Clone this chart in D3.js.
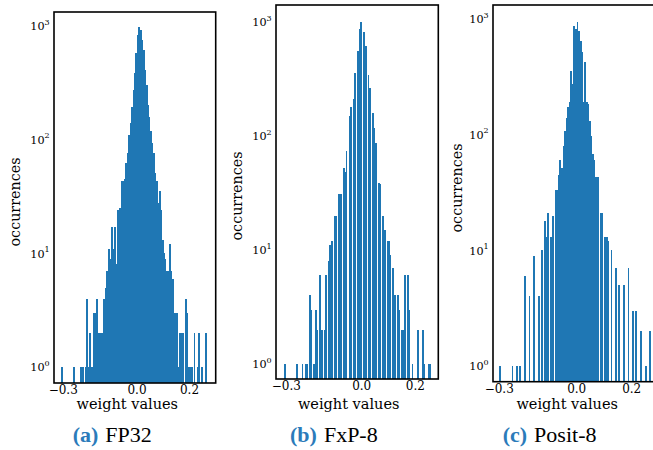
<!DOCTYPE html>
<html>
<head>
<meta charset="utf-8">
<script src="https://cdn.jsdelivr.net/npm/d3@7"></script>
<style>
  body { margin: 0; background: #fff; }
  .cap { font-family: "Liberation Serif", "Times New Roman", serif; }
  .ser { font-family: "DejaVu Serif", serif; }
</style>
</head>
<body>
<div id="chart"></div>
<script>
// ---- data ----

// (a) FP32: 100 equal bins starting at fp32Start
const fp32Start = -0.2876;
const fp32Width = 0.00554;
const fp32Counts = [
  1, 0, 0, 0, 0, 0, 0, 0, 1, 0,
  0, 0, 0, 1, 1, 0, 1, 4, 1, 2,
  1, 1, 3, 3, 4, 2, 2, 2, 2, 4,
  5, 7, 11, 9, 17, 11, 17, 8, 24, 24,
  25, 43, 43, 45, 62, 76, 110, 139, 195, 273,
  383, 575, 833, 973, 922, 753, 615, 410, 303, 202,
  159, 118, 93, 76, 51, 43, 28, 35, 24, 13,
  10, 9, 7, 7, 12, 7, 6, 3, 3, 3,
  1, 2, 2, 2, 0, 4, 3, 1, 1, 1,
  0, 2, 0, 1, 2, 0, 1, 0, 0, 2
];

// (b) FxP-8: counts per quantisation level k/128, k = -37 .. 33
const fxpFirstLevel = -37;
const fxpStep = 1 / 128;
const fxpCounts = [
  1, 0, 0, 0, 0, 0, 1, 0, 0, 1, 1, 1,
  4, 3, 1, 3, 2, 6, 2, 2, 6, 8,
  11, 12, 20, 20, 31, 31, 52, 48, 74, 150,
  180, 213, 356, 560, 867, 993, 811, 620, 344, 266,
  160, 118, 87, 39, 38, 20, 15, 12, 12, 9,
  7, 4, 4, 3, 2, 2, 6, 6, 3, 1,
  0, 0, 2, 0, 2, 1, 0, 1, 1
];
const fxpBins = 100;

// (c) Posit-8: 100 equal bins starting at positStart
const positStart = -0.28125;
const positWidth = 0.005625;
const positCounts = [
  1, 0, 0, 0, 0, 0, 0, 0, 1, 0,
  0, 1, 0, 1, 0, 0, 6, 0, 0, 4,
  0, 0, 9, 0, 0, 4, 0, 10, 0, 18,
  13, 21, 0, 13, 20, 0, 33, 33, 45, 60,
  52, 80, 108, 140, 172, 190, 357, 274, 875, 820,
  935, 793, 650, 515, 190, 422, 190, 184, 132, 98,
  68, 60, 43, 43, 0, 21, 21, 0, 13, 13,
  12, 0, 10, 0, 0, 7, 0, 5, 0, 0,
  5, 0, 0, 7, 0, 0, 3, 0, 3, 0,
  0, 2, 0, 0, 1, 0, 0, 2, 0, 0
];

const xTicks = [-0.3, 0.0, 0.2];
const yTicks = [1, 10, 100, 1000];
const captionTags = ["(a)", "(b)", "(c)"];
const captionNames = ["FP32", "FxP-8", "Posit-8"];

// ---- bins as {x0, x1, n} ----
const uniformBins = (start, w, counts) =>
  counts.map((n, i) => ({ x0: start + i * w, x1: start + (i + 1) * w, n }));

const fxpLo = fxpFirstLevel * fxpStep;
const fxpHi = (fxpFirstLevel + fxpCounts.length - 1) * fxpStep;
const fxpW = (fxpHi - fxpLo) / fxpBins;
const fxpData = fxpCounts.map((n, j) => {
  const v = (fxpFirstLevel + j) * fxpStep;
  const idx = Math.min(fxpBins - 1, Math.floor((v - fxpLo) / fxpW + 1e-9));
  return { x0: fxpLo + idx * fxpW, x1: fxpLo + (idx + 1) * fxpW, n };
});

const binsList = [
  uniformBins(fp32Start, fp32Width, fp32Counts),
  fxpData,
  uniformBins(positStart, positWidth, positCounts)
];

// ---- layout (pixels) ----
const panels = [
  { l: 54, r: 215.7, t: 12, b: 383, zx: 137, x02: 189.5, y1: 367, y1000: 26,
    ylx: 14.5, yly: 202, xlx: 127.3, capx: 72.7 },
  { l: 276, r: 438.3, t: 5, b: 379, zx: 361.7, x02: 415.3, y1: 364, y1000: 22,
    ylx: 236.7, yly: 196, xlx: 348.7, capx: 290 },
  { l: 493, r: 662, t: 5, b: 381.7, zx: 576.7, x02: 631.7, y1: 366, y1000: 19,
    ylx: 457, yly: 188, xlx: 567.2, capx: 502.7 }
];

const width = 653;
const height = 450;
const barColor = "#1f77b4";
const tagColor = "#2b7bba";

const svg = d3.select("#chart")
  .append("svg")
  .attr("width", width)
  .attr("height", height)
  .style("background-color", "#fff");

panels.forEach((p, pi) => {
  const x = d3.scaleLinear().domain([0, 0.2]).range([p.zx, p.x02]);
  const y = d3.scaleLog().domain([1, 1000]).range([p.y1, p.y1000]);

  const g = svg.append("g");

  svg.append("clipPath")
    .attr("id", "clip" + pi)
    .append("rect")
    .attr("x", p.l).attr("y", p.t)
    .attr("width", p.r - p.l).attr("height", p.b - p.t);

  // bars: crisp edges + a little overlap, so neighbouring bins give a solid block
  g.append("g")
    .attr("clip-path", `url(#clip${pi})`)
    .attr("shape-rendering", "crispEdges")
    .selectAll("rect")
    .data(binsList[pi].filter(d => d.n > 0))
    .join("rect")
    .attr("x", d => x(d.x0) - 0.2)
    .attr("width", d => x(d.x1) - x(d.x0) + 0.4)
    .attr("y", d => y(d.n))
    .attr("height", d => p.b + 2 - y(d.n))
    .attr("fill", barColor);

  // frame
  g.append("rect")
    .attr("x", p.l).attr("y", p.t)
    .attr("width", p.r - p.l).attr("height", p.b - p.t)
    .attr("fill", "none")
    .attr("stroke", "#000")
    .attr("stroke-width", 1.6);

  // x tick labels (matplotlib shifts the minus labels a little)
  g.selectAll(".xt")
    .data(xTicks)
    .join("text")
    .attr("class", "ser")
    .attr("x", d => x(d) + (d < 0 ? 5 : 0))
    .attr("y", p.b + 10.8)
    .attr("text-anchor", "middle")
    .attr("font-size", 12)
    .attr("fill", "#000")
    .text(d => (d < 0 ? "\u2212" : "") + Math.abs(d).toFixed(1));

  // y tick labels 10^k
  const yt = g.selectAll(".yt")
    .data(yTicks)
    .join("text")
    .attr("class", "ser")
    .attr("x", p.l - 4.3)
    .attr("y", d => y(d) + 4.2)
    .attr("text-anchor", "end")
    .attr("font-size", 11.2)
    .attr("fill", "#000");
  yt.append("tspan").text("10");
  yt.append("tspan")
    .attr("dy", -5.5)
    .attr("font-size", 8)
    .text(d => Math.round(Math.log10(d)));

  // axis titles
  g.append("text")
    .attr("class", "ser")
    .attr("transform", `translate(${p.ylx},${p.yly}) rotate(-90)`)
    .attr("text-anchor", "middle")
    .attr("dominant-baseline", "central")
    .attr("font-size", 14.3)
    .text("occurrences");

  g.append("text")
    .attr("class", "ser")
    .attr("x", p.xlx)
    .attr("y", 409)
    .attr("text-anchor", "middle")
    .attr("font-size", 14.5)
    .text("weight values");

  // sub-caption
  const cap = g.append("text")
    .attr("class", "cap")
    .attr("x", p.capx)
    .attr("y", 441.7)
    .attr("font-size", 22);
  cap.append("tspan")
    .attr("font-weight", "bold")
    .attr("fill", tagColor)
    .text(captionTags[pi]);
  cap.append("tspan")
    .attr("dx", 7)
    .attr("fill", "#000")
    .text(captionNames[pi]);
});
</script>
</body>
</html>
